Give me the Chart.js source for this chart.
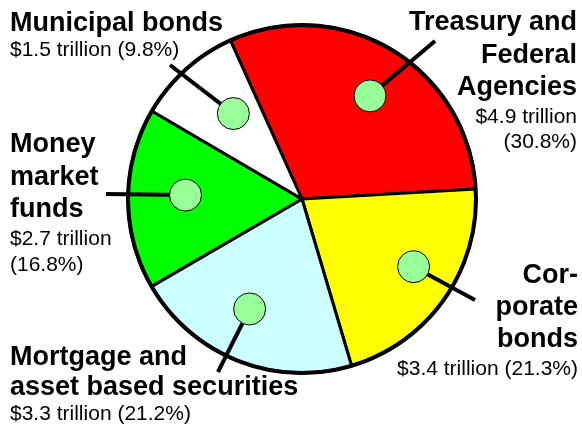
<!DOCTYPE html>
<html>
<head>
<meta charset="utf-8">
<script src="https://cdn.jsdelivr.net/npm/chart.js@4"></script>
<style>
  html, body { margin: 0; padding: 0; background: #fff; }
  canvas { display: block; }
</style>
</head>
<body>
<canvas id="pieChart" width="582" height="430"></canvas>
<script>
// holdings by category
const categories = [
  ['Treasury and', 'Federal', 'Agencies'],
  ['Cor-', 'porate', 'bonds'],
  ['Mortgage and', 'asset based securities'],
  ['Money', 'market', 'funds'],
  ['Municipal bonds']
];
const trillions = [4.9, 3.4, 3.3, 2.7, 1.5];
const percents = [30.8, 21.3, 21.2, 16.8, 9.8];
const sliceColors = ['#ff0000', '#ffff00', '#ccffff', '#00ff00', '#ffffff'];

// where each caption goes, and where its dot sits inside the slice
const captions = [
  { align: 'right', x: 577, nameY: [30, 63, 95], valueY: [123, 148], wrap: true, lineEnd: [435, 41], r: 0.71, at: 0.52 },
  { align: 'right', x: 578, nameY: [283, 315, 347], valueY: [375], wrap: false, lineEnd: [475, 300], r: 0.75, at: 0.45 },
  { align: 'left', x: 10, nameY: [365, 395], valueY: [420], wrap: false, lineEnd: [218, 372], r: 0.70, at: 0.55 },
  { align: 'left', x: 10, nameY: [152, 185, 217], valueY: [245, 271], wrap: true, lineEnd: [106, 194], r: 0.67, at: 0.53 },
  { align: 'left', x: 10, nameY: [31], valueY: [56], wrap: false, lineEnd: [170, 65], r: 0.63, at: 0.59 }
];

const captionPlugin = {
  id: 'captions',
  afterDatasetsDraw(chart) {
    const ctx = chart.ctx;
    const arcs = chart.getDatasetMeta(0).data;
    ctx.save();

    // heavier rim around the whole pie
    const rim = arcs[0].getProps(['x', 'y', 'outerRadius'], true);
    ctx.strokeStyle = '#000';
    ctx.lineWidth = 4;
    ctx.beginPath();
    ctx.arc(rim.x, rim.y, rim.outerRadius, 0, Math.PI * 2);
    ctx.stroke();

    arcs.forEach(function(arc, i) {
      const c = captions[i];
      const p = arc.getProps(['x', 'y', 'startAngle', 'endAngle', 'outerRadius'], true);
      const a = p.startAngle + c.at * (p.endAngle - p.startAngle);
      const dx = p.x + Math.cos(a) * p.outerRadius * c.r;
      const dy = p.y + Math.sin(a) * p.outerRadius * c.r;

      // leader line, then the dot over its start
      ctx.strokeStyle = '#000';
      ctx.lineWidth = 4;
      ctx.beginPath();
      ctx.moveTo(dx, dy);
      ctx.lineTo(c.lineEnd[0], c.lineEnd[1]);
      ctx.stroke();

      ctx.beginPath();
      ctx.arc(dx, dy, 16, 0, Math.PI * 2);
      ctx.fillStyle = '#99ff99';
      ctx.fill();
      ctx.lineWidth = 1;
      ctx.stroke();

      // caption text
      ctx.fillStyle = '#000';
      ctx.textAlign = c.align;
      ctx.textBaseline = 'alphabetic';
      ctx.font = 'bold 27px "Liberation Sans", Arial, sans-serif';
      categories[i].forEach(function(line, j) {
        ctx.fillText(line, c.x, c.nameY[j]);
      });
      ctx.font = '21px "Liberation Sans", Arial, sans-serif';
      var amount = '$' + trillions[i].toFixed(1) + ' trillion';
      var share = '(' + percents[i].toFixed(1) + '%)';
      var lines = c.wrap ? [amount, share] : [amount + ' ' + share];
      lines.forEach(function(line, j) {
        ctx.fillText(line, c.x, c.valueY[j]);
      });
    });
    ctx.restore();
  }
};

const config = {
  type: 'pie',
  data: {
    labels: categories,
    datasets: [{
      data: percents,
      backgroundColor: sliceColors,
      borderColor: '#000',
      borderWidth: 3
    }]
  },
  options: {
    responsive: false,
    animation: false,
    devicePixelRatio: 1,
    rotation: -24.3,
    radius: 174,
    layout: { padding: { left: 22, right: 0, top: 0, bottom: 32 } },
    plugins: {
      legend: { display: false },
      tooltip: { enabled: false }
    }
  },
  plugins: [captionPlugin]
};

const myChart = new Chart(document.getElementById('pieChart'), config);
</script>
</body>
</html>
